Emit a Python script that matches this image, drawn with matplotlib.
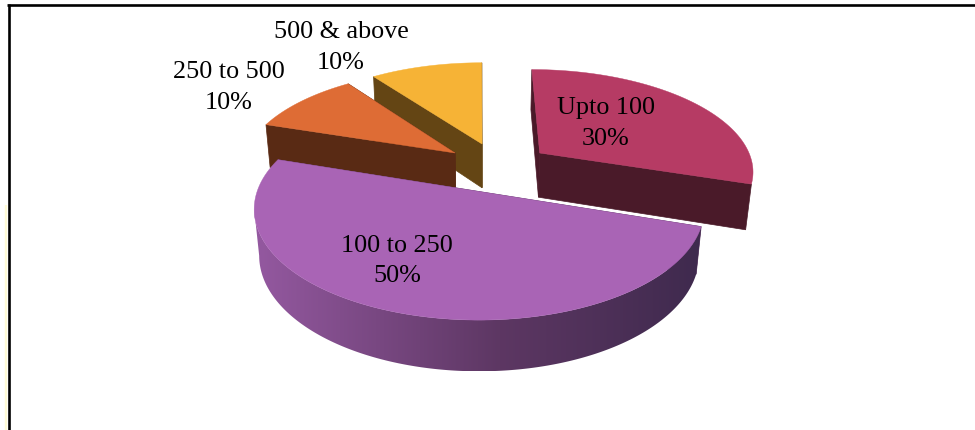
#exploded 3d pie, drawn by hand since matplotlib pie has no depth
import numpy as np
import matplotlib
matplotlib.use('Agg')
import matplotlib.pyplot as plt
from matplotlib.colors import to_rgb
from matplotlib.patches import Polygon

categories = ['Upto 100', '100 to 250', '250 to 500', '500 & above']
percents = [30, 50, 10, 10]

top_colors = ['#B63B64', '#A964B5', '#DE6C35', '#F6B336']
wall_colors = ['#4A1A29', '#5D3763', '#592A14', '#644514']
#how far each slice is pulled out of the pie (pie radius = 1)
explode_x = [0.285, -0.004, -0.119, 0.01]
explode_y = [0.378, 0.0, 0.378, 0.473]
label_pos = [(606, 123.5), (397, 261), (229, 87.5), (341, 47.5)]
draw_order = [3, 2, 0, 1]

#projection, in image pixels
cx, cy = 480, 191.5
rx, ry = 222, 108
depth = 47
persp_y = 0.16
persp_z = 0.022


def project(x, y, z):
    s = 1 / (1 + persp_y * y - persp_z * z)
    return cx + rx * x * s, cy - (ry * y + depth * z) * s


def arc(start, end, off_x, off_y, z, n=240):
    theta = np.radians(np.linspace(start, end, n))
    return project(off_x + np.sin(theta), off_y + np.cos(theta), z)


def radial_wall(ax, angle, off_x, off_y, color):
    t = np.radians(angle)
    xs = np.array([off_x, off_x + np.sin(t), off_x + np.sin(t), off_x])
    ys = np.array([off_y, off_y + np.cos(t), off_y + np.cos(t), off_y])
    zs = np.array([0, 0, -1, -1])
    px, py = project(xs, ys, zs)
    ax.fill(px, py, color=color, lw=0.5)


def gradient_wall(ax, start, end, off_x, off_y):
    #side of the big slice goes from light on the left to dark on the right
    x0, y0 = arc(start, end, off_x, off_y, 0)
    x1, y1 = arc(start, end, off_x, off_y, -1)
    #stop at the left silhouette so the outline runs straight down from it
    cut = np.argmin(x0) + 1
    outline = np.column_stack([np.r_[x0[:cut], x1[:cut][::-1]], np.r_[y0[:cut], y1[:cut][::-1]]])
    left, right = outline[:, 0].min(), outline[:, 0].max()
    stops = np.array([to_rgb(c) for c in ['#93589F', '#5D3763', '#3F2A4E']])
    grid = np.linspace(left, right, 500)
    rgb = np.stack([np.interp(grid, [260, 500, 700], stops[:, k]) for k in range(3)], axis=1)
    im = ax.imshow(rgb[np.newaxis, :, :], extent=[left, right, outline[:, 1].max(), outline[:, 1].min()],
                   aspect='auto', zorder=2)
    im.set_clip_path(Polygon(outline, closed=True, transform=ax.transData))


fig = plt.figure(figsize=(9.75, 4.3), dpi=100)
ax = fig.add_axes([0, 0, 1, 1])
ax.axis('off')

#frame of the page
ax.plot([6.2, 6.2], [205, 430], color='#FFFBD6', lw=1.7, solid_capstyle='butt')
ax.plot([8.7, 8.7], [4, 430], color='black', lw=1.9, solid_capstyle='butt')
ax.plot([7.4, 975], [5, 5], color='black', lw=1.9, solid_capstyle='butt')

edges = np.cumsum([0] + percents) * 3.6

for i in draw_order:
    start, end = edges[i], edges[i + 1]
    ox, oy = explode_x[i], explode_y[i]

    #back wall first, then the one facing the viewer
    walls = sorted([start, end], key=lambda a: -np.cos(np.radians(a)))
    for a in walls:
        radial_wall(ax, a, ox, oy, wall_colors[i])

    #only the big slice shows its outer wall
    if categories[i] == '100 to 250':
        gradient_wall(ax, start, end, ox, oy)

    ax_, ay_ = project(np.array([ox]), np.array([oy]), 0)
    tx, ty = arc(start, end, ox, oy, 0)
    ax.fill(np.r_[ax_, tx], np.r_[ay_, ty], color=top_colors[i], lw=0.3, zorder=3)

for name, pct, (lx, ly) in zip(categories, percents, label_pos):
    ax.text(lx, ly, name + '\n' + str(pct) + '%', ha='center', va='center',
            multialignment='center', family='Liberation Serif', fontsize=18.8,
            color='black', linespacing=1.5, zorder=4)

ax.set_xlim(0, 975)
ax.set_ylim(430, 0)
fig.savefig('out.png', dpi=100)
